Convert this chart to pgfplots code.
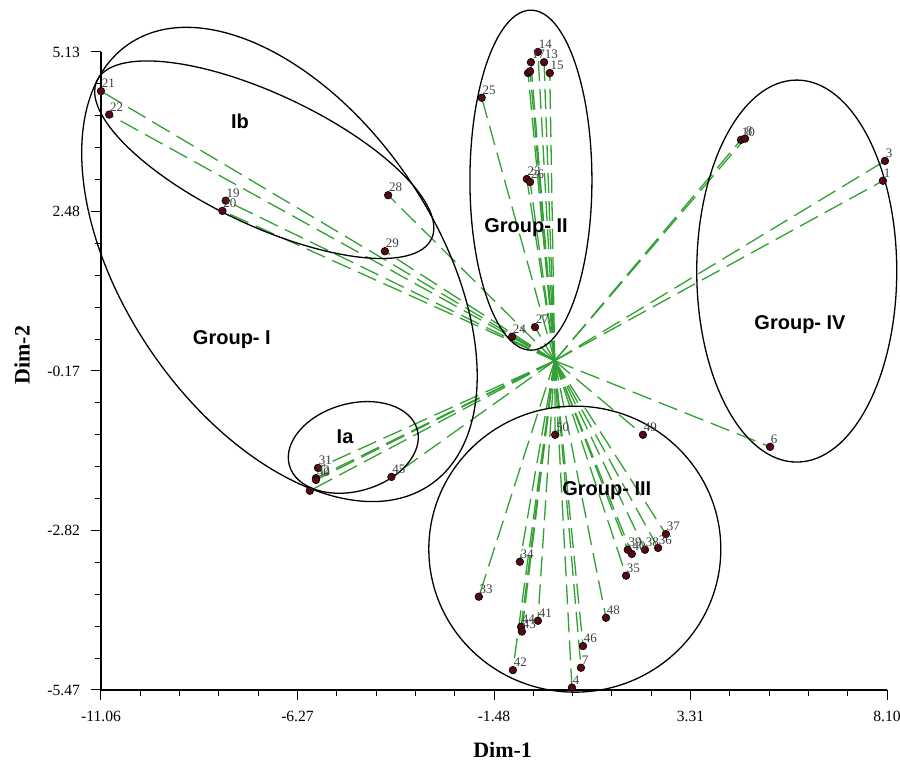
\documentclass[border=0pt]{standalone}
\usepackage{pgfplots}
\pgfplotsset{compat=1.18}
\usepackage{pgfplotstable}
\usepackage{fontspec}
\setmainfont{Liberation Serif}
\newfontfamily\sansf{Liberation Sans}
\usetikzlibrary{shapes.geometric}
\definecolor{lgreen}{RGB}{50,160,50}
\definecolor{ptfill}{RGB}{85,10,20}

\pgfplotstableread{
x y lab
-11.06 4.48 21
-10.86 4.09 22
-8.02 2.66 19
-8.10 2.49 20
-4.06 2.75 28
-4.14 1.82 29
-1.78 4.37 25
-0.41 5.13 14
-0.58 4.96 17
-0.26 4.96 13
-0.12 4.78 15
-0.68 3.02 23
-0.60 2.97 26
-1.04 0.40 24
-0.48 0.56 27
4.54 3.67 10
4.64 3.69 8
8.05 3.32 3
8.00 2.99 1
5.25 -1.43 6
-5.77 -1.78 31
-5.82 -1.95 32
-5.82 -1.98 30
-3.98 -1.93 45
0.01 -1.23 50
2.15 -1.23 49
2.71 -2.88 37
2.52 -3.11 36
2.20 -3.14 38
1.88 -3.21 40
1.78 -3.14 39
1.74 -3.57 35
-0.85 -3.34 34
-1.85 -3.92 33
1.25 -4.27 48
-0.41 -4.32 41
-0.82 -4.42 44
-0.80 -4.50 43
0.69 -4.74 46
0.64 -5.10 7
-1.02 -5.14 42
0.42 -5.43 4
}\labeled

\pgfplotstableread{
x y
-0.65 4.78
-0.60 4.81
-5.97 -2.16
}\unlabeled

\begin{document}
\begin{tikzpicture}
\begin{axis}[name=ax, scale only axis, width=393pt, height=319pt,
  xmin=-11.06, xmax=8.10, ymin=-5.47, ymax=5.13,
  axis x line=bottom, axis y line=left,
  axis line style={-, line width=0.6pt, black},
  xtick={-11.06,-6.27,-1.48,3.31,8.10},
  ytick={-5.47,-2.82,-0.17,2.48,5.13},
  minor x tick num=4, minor y tick num=4,
  tick align=outside, major tick length=5pt, minor tick length=3pt,
  every tick/.style={black, line width=0.5pt},
  every tick label/.append style={font=\fontsize{7.8}{8}\selectfont,
    /pgf/number format/fixed, /pgf/number format/fixed zerofill,
    /pgf/number format/precision=2, /pgf/number format/assume math mode=true},
  yticklabel style={xshift=-2pt},
  xticklabel style={yshift=-2pt},
  clip=false,
  xlabel={\textbf{Dim-1}}, ylabel={\textbf{Dim-2}},
  xlabel style={at={(axis description cs:0.511,-0.094)}, anchor=center, font=\fontsize{11}{12}\selectfont},
  ylabel style={at={(axis description cs:-0.1005,0.525)}, anchor=center, font=\fontsize{11}{12}\selectfont},
]
% dashed lines from origin
\addplot[lgreen, line width=0.65pt, dash pattern=on 10pt off 4pt,
  quiver={u=\thisrow{x}, v=\thisrow{y}}] table[x expr=0, y expr=0] {\labeled};
\addplot[lgreen, line width=0.65pt, dash pattern=on 10pt off 4pt,
  quiver={u=\thisrow{x}, v=\thisrow{y}}] table[x expr=0, y expr=0] {\unlabeled};
% points
\addplot[only marks, mark=*, mark size=1.9pt, mark options={fill=ptfill, draw=black, line width=0.3pt},
  point meta=explicit symbolic, nodes near coords,
  nodes near coords style={font=\fontsize{6.5}{7}\selectfont, anchor=south west, inner sep=0pt,
    xshift=0.3pt, yshift=1.5pt, text=black!75}]
  table[x=x, y=y, meta=lab] {\labeled};
\addplot[only marks, mark=*, mark size=1.9pt, mark options={fill=ptfill, draw=black, line width=0.3pt}]
  table[x=x, y=y] {\unlabeled};
% ellipses
\node[draw, ellipse, line width=0.65pt, inner sep=0pt, minimum width=267pt, minimum height=155pt, rotate=-55.6] at (axis cs:-6.71,1.60) {};
\node[draw, ellipse, line width=0.65pt, inner sep=0pt, minimum width=185pt, minimum height=65.5pt, rotate=-25.3] at (axis cs:-7.08,3.34) {};
\node[draw, ellipse, line width=0.65pt, inner sep=0pt, minimum width=66.4pt, minimum height=43.8pt, rotate=15.7] at (axis cs:-4.91,-1.44) {};
\node[draw, ellipse, line width=0.65pt, inner sep=0pt, minimum width=61pt, minimum height=170pt] at (axis cs:-0.58,3.00) {};
\node[draw, ellipse, line width=0.65pt, inner sep=0pt, minimum width=100pt, minimum height=191pt] at (axis cs:5.90,1.49) {};
\node[draw, ellipse, line width=0.65pt, inner sep=0pt, minimum width=146pt, minimum height=143pt] at (axis cs:0.49,-3.13) {};
% group labels
\tikzset{glab/.style={font=\sansf\bfseries\fontsize{10}{12}\selectfont, inner sep=0pt}}
\node[glab] at (axis cs:-7.67,3.97) {Ib};
\node[glab] at (axis cs:-0.70,2.21) {Group- II};
\node[glab] at (axis cs:-7.87,0.35) {Group- I};
\node[glab] at (axis cs:-5.11,-1.27) {Ia};
\node[glab] at (axis cs:5.98,0.60) {Group- IV};
\node[glab] at (axis cs:1.27,-2.15) {Group- III};
\end{axis}
\pgfresetboundingbox
\path[use as bounding box] ([shift={(-50.5pt,-37pt)}]ax.south west) rectangle ([shift={(399.5pt,345pt)}]ax.south west);
\end{tikzpicture}
\end{document}
